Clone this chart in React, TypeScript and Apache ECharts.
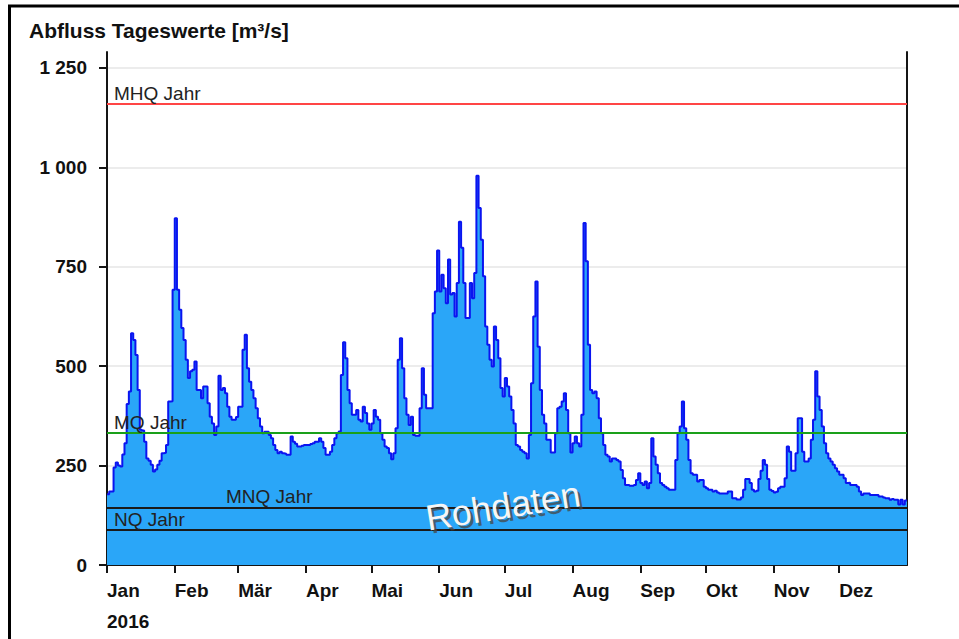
import React, { useEffect, useRef } from "react";
import * as echarts from "echarts";

// ---- data ----
const monthNames = ["Jan", "Feb", "Mär", "Apr", "Mai", "Jun", "Jul", "Aug", "Sep", "Okt", "Nov", "Dez"];
const monthStarts = [0, 31, 60, 91, 121, 152, 182, 213, 244, 274, 305, 335];
const yearDays = 366;
const yearLabel = "2016";
const yTicks = [0, 250, 500, 750, 1000, 1250];
const yMax = 1290;

const jan = [178, 185, 185, 245, 258, 250, 248, 278, 306, 405, 436, 583, 566, 528, 440, 340, 338, 310, 268, 262, 252, 235, 240, 252, 262, 281, 282, 302, 411, 412, 692];
const feb = [872, 692, 642, 596, 566, 516, 470, 487, 491, 512, 440, 440, 419, 449, 449, 407, 373, 356, 327, 348, 476, 440, 445, 432, 398, 373, 365, 365, 372];
const mar = [398, 398, 541, 579, 495, 461, 440, 419, 394, 369, 348, 331, 335, 335, 327, 319, 302, 289, 281, 285, 281, 280, 277, 277, 323, 310, 305, 298, 298, 300, 302];
const apr = [302, 302, 304, 306, 310, 310, 319, 310, 294, 277, 277, 285, 302, 319, 331, 336, 478, 560, 520, 440, 407, 378, 378, 390, 365, 361, 398, 382, 356, 340];
const mai = [356, 390, 373, 365, 331, 315, 298, 294, 281, 266, 281, 344, 516, 570, 495, 419, 378, 352, 373, 327, 325, 325, 394, 495, 428, 394, 394, 394, 633, 688, 791];
const jun = [688, 730, 696, 658, 768, 680, 684, 625, 709, 863, 798, 709, 621, 621, 709, 671, 734, 979, 898, 818, 726, 600, 554, 516, 499, 600, 566, 520, 445, 424];
const jul = [470, 449, 424, 390, 356, 302, 298, 289, 285, 281, 268, 327, 457, 625, 713, 549, 440, 378, 356, 315, 315, 283, 283, 331, 394, 398, 411, 432, 390, 331, 283];
const aug = [306, 323, 306, 298, 378, 860, 764, 554, 440, 432, 436, 419, 369, 331, 302, 277, 273, 260, 268, 268, 264, 260, 239, 218, 201, 201, 199, 199, 201, 214, 231];
const sep = [206, 201, 210, 193, 206, 319, 273, 252, 231, 206, 201, 197, 193, 189, 189, 189, 264, 331, 348, 411, 344, 315, 264, 231, 227, 227, 210, 214, 214, 197];
const okt = [193, 189, 189, 185, 187, 182, 180, 180, 180, 180, 185, 185, 168, 168, 165, 165, 170, 189, 216, 216, 206, 189, 185, 187, 216, 237, 264, 252, 216, 189, 186];
const nov = [182, 184, 193, 197, 197, 218, 298, 285, 237, 237, 281, 369, 369, 285, 260, 260, 268, 315, 365, 487, 424, 390, 348, 306, 281, 268, 260, 252, 243, 235];
const dez = [227, 227, 218, 206, 207, 201, 201, 201, 197, 185, 176, 180, 180, 180, 176, 176, 176, 176, 172, 172, 170, 168, 168, 164, 166, 164, 164, 152, 164, 152, 162];

const refNames = ["MHQ Jahr", "MQ Jahr", "MNQ Jahr", "NQ Jahr"];
const refValues = [1160, 333, 145, 88];

const FONT = '"Liberation Sans", Arial, sans-serif';

function fmtNum(v: number): string {
  if (v >= 1000) {
    return Math.floor(v / 1000) + " " + String(v % 1000).padStart(3, "0");
  }
  return String(v);
}

export default function App() {
  const ref = useRef<HTMLDivElement>(null);

  useEffect(() => {
    if (!ref.current) return;
    const chart = echarts.init(ref.current, undefined, { renderer: "svg" });

    const daily = [...jan, ...feb, ...mar, ...apr, ...mai, ...jun, ...jul, ...aug, ...sep, ...okt, ...nov, ...dez];
    const stepData: number[][] = daily.map((v, i) => [i, v]);
    stepData.push([yearDays, daily[daily.length - 1]]);

    const refColors = ["#ff4545", "#1aa01a", "#1a1a1a", "#1a1a1a"];
    const refDistX = [7, 7, 119, 7];

    const axisColor = "#151515";
    const watermark = {
      text: "Rohdaten",
      font: `36px ${FONT}`,
      align: "center",
      verticalAlign: "middle",
    };

    chart.setOption({
      animation: false,
      backgroundColor: "#ffffff",
      title: {
        text: "Abfluss Tageswerte [m³/s]",
        left: 24,
        top: 15,
        textStyle: { fontFamily: FONT, fontWeight: "bold", fontSize: 21, color: "#111" },
      },
      grid: { left: 107, right: 52, top: 52, bottom: 74 },
      xAxis: {
        type: "value",
        min: 0,
        max: yearDays,
        axisLine: { show: true, onZero: false, lineStyle: { color: axisColor, width: 2 } },
        axisTick: {
          show: true,
          customValues: monthStarts,
          length: 8,
          lineStyle: { color: axisColor, width: 2 },
        },
        axisLabel: {
          customValues: monthStarts,
          formatter: (v: number) => monthNames[monthStarts.indexOf(v)] ?? "",
          align: "left",
          margin: 16,
          fontFamily: FONT,
          fontWeight: "bold",
          fontSize: 19,
          color: "#111",
        },
        splitLine: { show: false },
      },
      yAxis: [
        {
          type: "value",
          min: 0,
          max: yMax,
          axisLine: { show: true, lineStyle: { color: axisColor, width: 2 } },
          axisTick: { show: true, customValues: yTicks, length: 8, lineStyle: { color: axisColor, width: 2 } },
          axisLabel: {
            customValues: yTicks,
            formatter: (v: number) => fmtNum(v),
            margin: 20,
            fontFamily: FONT,
            fontWeight: "bold",
            fontSize: 19,
            color: "#111",
          },
          splitLine: { show: true, lineStyle: { color: "#ececec", width: 2 } },
        },
        {
          type: "value",
          position: "right",
          min: 0,
          max: yMax,
          axisLine: { show: true, lineStyle: { color: axisColor, width: 2 } },
          axisTick: { show: false },
          axisLabel: { show: false },
          splitLine: { show: false },
        },
      ],
      series: [
        {
          type: "line",
          step: "end",
          data: stepData,
          symbol: "none",
          lineStyle: { color: "#0a14f0", width: 2 },
          areaStyle: { color: "#2aa6f8", opacity: 1, origin: "start" },
          markLine: {
            silent: true,
            symbol: ["none", "none"],
            data: refValues.map((v, i) => ({
              yAxis: v,
              lineStyle: { color: refColors[i], width: 2, type: "solid" },
              label: {
                show: true,
                position: "insideStartTop",
                distance: [refDistX[i], 1],
                formatter: refNames[i],
                color: "#222",
                fontFamily: FONT,
                fontSize: 19,
              },
            })),
          },
        },
      ],
      graphic: [
        {
          type: "rect",
          silent: true,
          z: 100,
          shape: { x: 9.5, y: 6, width: 1000, height: 700 },
          style: { fill: "none", stroke: "#000", lineWidth: 3 },
        },
        {
          type: "text",
          left: 107,
          top: 612,
          style: { text: yearLabel, font: `bold 19px ${FONT}`, fill: "#111" },
        },
        {
          type: "text",
          x: 506,
          y: 509,
          rotation: 0.16,
          z: 49,
          silent: true,
          style: { ...watermark, fill: "rgba(70,70,70,0.75)" },
        },
        {
          type: "text",
          x: 503,
          y: 506,
          rotation: 0.16,
          z: 50,
          silent: true,
          style: { ...watermark, fill: "#f6f6f6" },
        },
      ],
    });

    return () => chart.dispose();
  }, []);

  return (
    <div
      ref={ref}
      style={{ position: "fixed", left: 0, top: 0, width: 959, height: 639, background: "#fff" }}
    />
  );
}
